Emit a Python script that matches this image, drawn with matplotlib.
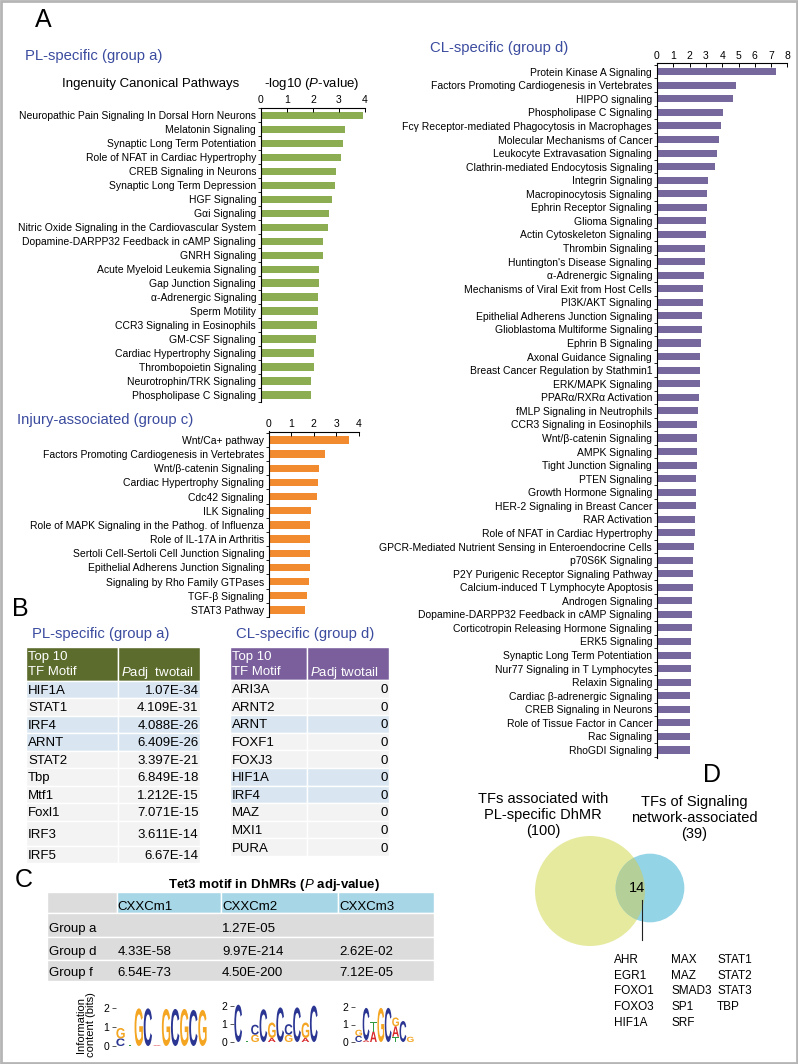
import matplotlib
matplotlib.use('Agg')
import matplotlib.pyplot as plt
import numpy as np
from matplotlib.patches import Rectangle, Circle, PathPatch
from matplotlib.textpath import TextPath
from matplotlib.font_manager import FontProperties
from matplotlib.transforms import Affine2D

plt.rcParams['font.family'] = ['Liberation Sans', 'DejaVu Sans']
plt.rcParams['mathtext.fontset'] = 'custom'
plt.rcParams['mathtext.rm'] = 'Liberation Sans'
plt.rcParams['mathtext.it'] = 'Liberation Sans:italic'
plt.rcParams['mathtext.bf'] = 'Liberation Sans:bold'

# ---------------- data ----------------
pl_pathways = [
    'Neuropathic Pain Signaling In Dorsal Horn Neurons', 'Melatonin Signaling',
    'Synaptic Long Term Potentiation', 'Role of NFAT in Cardiac Hypertrophy',
    'CREB Signaling in Neurons', 'Synaptic Long Term Depression', 'HGF Signaling',
    'Gαi Signaling', 'Nitric Oxide Signaling in the Cardiovascular System',
    'Dopamine-DARPP32 Feedback in cAMP Signaling', 'GNRH Signaling',
    'Acute Myeloid Leukemia Signaling', 'Gap Junction Signaling', 'α-Adrenergic Signaling',
    'Sperm Motility', 'CCR3 Signaling in Eosinophils', 'GM-CSF Signaling',
    'Cardiac Hypertrophy Signaling', 'Thrombopoietin Signaling',
    'Neurotrophin/TRK Signaling', 'Phospholipase C Signaling']
pl_values = [3.91, 3.23, 3.17, 3.08, 2.88, 2.85, 2.73, 2.63, 2.58, 2.40, 2.38,
             2.23, 2.22, 2.19, 2.18, 2.17, 2.12, 2.05, 2.04, 1.91, 1.91]

inj_pathways = [
    'Wnt/Ca+ pathway', 'Factors Promoting Cardiogenesis in Vertebrates',
    'Wnt/β-catenin Signaling', 'Cardiac Hypertrophy Signaling', 'Cdc42 Signaling',
    'ILK Signaling', 'Role of MAPK Signaling in the Pathog. of Influenza',
    'Role of IL-17A in Arthritis', 'Sertoli Cell-Sertoli Cell Junction Signaling',
    'Epithelial Adherens Junction Signaling', 'Signaling by Rho Family GTPases',
    'TGF-β Signaling', 'STAT3 Pathway']
inj_values = [3.57, 2.50, 2.23, 2.20, 2.13, 1.88, 1.84, 1.83, 1.83, 1.83, 1.80, 1.71, 1.62]

cl_pathways = [
    'Protein Kinase A Signaling', 'Factors Promoting Cardiogenesis in Vertebrates',
    'HIPPO signaling', 'Phospholipase C Signaling',
    'Fcγ Receptor-mediated Phagocytosis in Macrophages', 'Molecular Mechanisms of Cancer',
    'Leukocyte Extravasation Signaling', 'Clathrin-mediated Endocytosis Signaling',
    'Integrin Signaling', 'Macropinocytosis Signaling', 'Ephrin Receptor Signaling',
    'Glioma Signaling', 'Actin Cytoskeleton Signaling', 'Thrombin Signaling',
    "Huntington's Disease Signaling", 'α-Adrenergic Signaling',
    'Mechanisms of Viral Exit from Host Cells', 'PI3K/AKT Signaling',
    'Epithelial Adherens Junction Signaling', 'Glioblastoma Multiforme Signaling',
    'Ephrin B Signaling', 'Axonal Guidance Signaling',
    'Breast Cancer Regulation by Stathmin1', 'ERK/MAPK Signaling',
    'PPARα/RXRα Activation', 'fMLP Signaling in Neutrophils',
    'CCR3 Signaling in Eosinophils', 'Wnt/β-catenin Signaling', 'AMPK Signaling',
    'Tight Junction Signaling', 'PTEN Signaling', 'Growth Hormone Signaling',
    'HER-2 Signaling in Breast Cancer', 'RAR Activation',
    'Role of NFAT in Cardiac Hypertrophy',
    'GPCR-Mediated Nutrient Sensing in Enteroendocrine Cells', 'p70S6K Signaling',
    'P2Y Purigenic Receptor Signaling Pathway', 'Calcium-induced T Lymphocyte Apoptosis',
    'Androgen Signaling', 'Dopamine-DARPP32 Feedback in cAMP Signaling',
    'Corticotropin Releasing Hormone Signaling', 'ERK5 Signaling',
    'Synaptic Long Term Potentiation', 'Nur77 Signaling in T Lymphocytes',
    'Relaxin Signaling', 'Cardiac β-adrenergic Signaling', 'CREB Signaling in Neurons',
    'Role of Tissue Factor in Cancer', 'Rac Signaling', 'RhoGDI Signaling']
cl_values = [7.30, 4.85, 4.64, 4.03, 3.93, 3.80, 3.70, 3.56, 3.11, 3.09, 3.07, 3.03,
             3.03, 2.97, 2.97, 2.91, 2.80, 2.80, 2.76, 2.74, 2.70, 2.66, 2.66, 2.64,
             2.60, 2.54, 2.48, 2.43, 2.43, 2.43, 2.39, 2.39, 2.37, 2.35, 2.33, 2.27,
             2.19, 2.19, 2.19, 2.15, 2.13, 2.13, 2.09, 2.09, 2.07, 2.07, 2.04, 2.04,
             2.04, 2.04, 2.04]

pl_motifs = ['HIF1A', 'STAT1', 'IRF4', 'ARNT', 'STAT2', 'Tbp', 'Mtf1', 'Foxl1', 'IRF3', 'IRF5']
pl_padj = ['1.07E-34', '4.109E-31', '4.088E-26', '6.409E-26', '3.397E-21', '6.849E-18',
           '1.212E-15', '7.071E-15', '3.611E-14', '6.67E-14']
cl_motifs = ['ARI3A', 'ARNT2', 'ARNT', 'FOXF1', 'FOXJ3', 'HIF1A', 'IRF4', 'MAZ', 'MXI1', 'PURA']
cl_padj = ['0'] * 10

tet3_motifs = ['CXXCm1', 'CXXCm2', 'CXXCm3']
tet3_groups = ['Group a', 'Group d', 'Group f']
tet3_padj = [['', '1.27E-05', ''],
             ['4.33E-58', '9.97E-214', '2.62E-02'],
             ['6.54E-73', '4.50E-200', '7.12E-05']]

# sequence logos: per position, (base, bits) stacked bottom to top
logo_cxxcm1 = [[('C', 0.40), ('G', 0.55)], [('T', 0.04)], [('G', 1.98)], [('C', 1.98)],
               [('A', 0.04)], [('G', 1.95)], [('C', 1.95)], [('G', 1.95)], [('C', 1.90)],
               [('G', 1.90)]]
logo_cxxcm2 = [[('C', 2.05)], [('T', 0.05)], [('G', 0.40), ('C', 0.55)], [('C', 1.80)],
               [('A', 0.22), ('G', 0.85)], [('C', 1.90)], [('G', 0.40), ('C', 0.58)],
               [('C', 1.90)], [('A', 0.22), ('G', 0.85)], [('C', 2.00)]]
logo_cxxcm3 = [[('C', 0.35), ('G', 0.35)], [('A', 0.10), ('C', 1.85)],
               [('A', 0.60), ('T', 0.55)], [('G', 1.95)], [('C', 1.95)],
               [('T', 0.30), ('A', 0.60), ('G', 0.50)], [('C', 1.20)], [('G', 0.30)]]

venn_pl_tfs = 100
venn_signaling_tfs = 39
venn_shared = 14
shared_tfs = ['AHR', 'EGR1', 'FOXO1', 'FOXO3', 'HIF1A', 'MAX', 'MAZ', 'SMAD3', 'SP1',
              'SRF', 'STAT1', 'STAT2', 'STAT3', 'TBP']

# ---------------- figure ----------------
W, H = 798, 1064
fig = plt.figure(figsize=(W / 100, H / 100), dpi=100)
TITLE_BLUE = '#3b4b9e'


def px_axes(x0, y0, x1, y1):
    return fig.add_axes([x0 / W, 1 - y1 / H, (x1 - x0) / W, (y1 - y0) / H])


canvas = px_axes(0, 0, W, H)
canvas.set_xlim(0, W)
canvas.set_ylim(H, 0)
canvas.axis('off')
canvas.add_patch(Rectangle((1, 1), W - 2, H - 2, fill=False, ec='#b5b5b5', lw=2))


def bar_panel(labels, values, color, x0, ppu, xmax, y_axis, c0, step, y_end):
    n = len(labels)
    ax = px_axes(x0, y_axis, x0 + xmax * ppu, y_end)
    ax.patch.set_alpha(0)
    ax.barh(np.arange(n), values, height=0.52, color=color)
    ax.set_xlim(0, xmax)
    ax.set_ylim((y_end - c0) / step, (y_axis - c0) / step)
    ax.xaxis.tick_top()
    ax.set_xticks(range(xmax + 1))
    ax.tick_params(axis='x', direction='in', length=3, width=0.7, pad=2, labelsize=7.5)
    ax.set_yticks(np.arange(n))
    ax.set_yticklabels(labels, fontsize=7.5)
    ax.tick_params(axis='y', which='major', length=0, pad=3.5)
    ax.set_yticks(np.arange(n + 1) - 0.5, minor=True)
    ax.tick_params(axis='y', which='minor', length=2, width=0.6)
    for s in ['right', 'bottom']:
        ax.spines[s].set_visible(False)
    for s in ['top', 'left']:
        ax.spines[s].set_linewidth(0.8)
    return ax


# Panel A
canvas.text(43, 20, 'A', fontsize=18, ha='center', va='center')
canvas.text(25, 56, 'PL-specific (group a)', fontsize=10.7, color=TITLE_BLUE, va='center')
canvas.text(151, 84, 'Ingenuity Canonical Pathways', fontsize=9.5, ha='center', va='center')
canvas.text(312, 84, r'-log10 ($\mathit{P}$-value)', fontsize=9.5, ha='center', va='center')
bar_panel(pl_pathways, pl_values, '#8cad52', 261, 26.0, 4, 107.5, 115.7, 14.7, 402)

canvas.text(17, 420, 'Injury-associated (group c)', fontsize=10.7, color=TITLE_BLUE,
            va='center')
bar_panel(inj_pathways, inj_values, '#f28b30', 269, 22.4, 4, 431.5, 440, 14.31, 617)

canvas.text(430, 48, 'CL-specific (group d)', fontsize=10.7, color=TITLE_BLUE, va='center')
bar_panel(cl_pathways, cl_values, '#76679c', 657, 16.3, 8, 63.3, 71.7, 13.566, 758)

# Panel B
canvas.text(20, 609, 'B', fontsize=18, ha='center', va='center')
shared_motifs = set(pl_motifs) & set(cl_motifs)


def motif_table(title, motifs, padj, header_color, x0, xs, x1, h_top, row_edges, header_lbl):
    canvas.text(x0 + 6, 634, title, fontsize=10.7, color=TITLE_BLUE, va='center')
    h_bot = row_edges[0]
    canvas.add_patch(Rectangle((x0, h_top), xs - x0, h_bot - h_top, fc=header_color,
                               ec='white', lw=1))
    canvas.add_patch(Rectangle((xs, h_top), x1 - xs, h_bot - h_top, fc=header_color,
                               ec='white', lw=1))
    canvas.text(x0 + 2, h_top + 10, 'Top 10', fontsize=9.5, color='white', va='center')
    canvas.text(x0 + 2, h_top + 25, 'TF Motif', fontsize=9.5, color='white', va='center')
    canvas.text(xs + 3, h_top + 26.5, header_lbl, fontsize=9.5, color='white', va='center')
    for i, (m, p) in enumerate(zip(motifs, padj)):
        y0, y1 = row_edges[i], row_edges[i + 1]
        fc = '#d9e5f1' if m in shared_motifs else '#f3f3f3'
        canvas.add_patch(Rectangle((x0, y0), xs - x0, y1 - y0, fc=fc, ec='white', lw=1))
        canvas.add_patch(Rectangle((xs, y0), x1 - xs, y1 - y0, fc=fc, ec='white', lw=1))
        yc = (y0 + y1) / 2 + 1.5
        canvas.text(x0 + 2, yc, m, fontsize=9.5, va='center')
        canvas.text(x1 - 1.5, yc, p, fontsize=9.5, va='center', ha='right')


motif_table('PL-specific (group a)', pl_motifs, pl_padj, '#5c6c2d', 26, 118, 200, 646.7,
            [680.5, 698, 715.5, 733, 750.5, 768, 785.5, 803, 820.5, 846, 862.5],
            r'$\mathit{P}$adj  twotail')
motif_table('CL-specific (group d)', cl_motifs, cl_padj, '#7a5f9c', 230, 307.3, 389.3, 646.7,
            list(680 + 17.6 * np.arange(11)), r'$\mathit{P}$adj twotail')

# Panel C
canvas.text(24, 880, 'C', fontsize=18, ha='center', va='center')
canvas.text(274, 885, r'Tet3 motif in DhMRs ($\mathit{P}$ adj-value)', fontsize=9.5,
            weight='bold', ha='center', va='center')
col_x = [46.7, 116.7, 221, 338, 434]
row_y = [891.7, 913.3, 937.3, 960, 980.7]
for j in range(4):
    fc = '#dcdcdc' if j == 0 else '#a7d7e7'
    canvas.add_patch(Rectangle((col_x[j], row_y[0]), col_x[j + 1] - col_x[j],
                               row_y[1] - row_y[0], fc=fc, ec='white', lw=1))
    if j > 0:
        canvas.text(col_x[j] + 1, 907, tet3_motifs[j - 1], fontsize=9.5, va='center')
for i, g in enumerate(tet3_groups):
    y0, y1 = row_y[i + 1], row_y[i + 2]
    canvas.add_patch(Rectangle((col_x[0], y0), col_x[4] - col_x[0], y1 - y0, fc='#dcdcdc',
                               ec='white', lw=1))
    canvas.text(col_x[0] + 2, y1 - 8, g, fontsize=9.5, va='center')
    for j, v in enumerate(tet3_padj[i]):
        canvas.text(col_x[j + 1] + 1, y1 - 8, v, fontsize=9.5, va='center')

BASE_COLORS = {'A': '#d8282a', 'C': '#2b3693', 'G': '#f4a623', 'T': '#2f9a3f'}
logo_font = FontProperties(family='Liberation Sans', weight='bold')


def draw_logo(columns, x0, x1, base, ppb):
    ax = px_axes(x0, base - 2.2 * ppb, x1, base)
    ax.patch.set_alpha(0)
    n = len(columns)
    ax.set_xlim(0.5, n + 0.5)
    ax.set_ylim(0, 2.2)
    for k, col in enumerate(columns):
        y = 0
        for ch, h in col:
            tp = TextPath((0, 0), ch, size=1, prop=logo_font)
            bb = tp.get_extents()
            tr = Affine2D().translate(-bb.x0, -bb.y0).scale(0.92 / bb.width, h / bb.height)
            tr = tr.translate(k + 1 - 0.46, y)
            ax.add_patch(PathPatch(tr.transform_path(tp), fc=BASE_COLORS[ch], ec='none'))
            y += h
    ax.set_xticks([])
    ax.set_yticks([0, 1, 2])
    ax.tick_params(axis='y', length=3, width=0.7, color='#555555', labelsize=7.5, pad=2)
    for s in ax.spines.values():
        s.set_visible(False)


canvas.text(86, 1025, 'Information\ncontent (bits)', fontsize=8, rotation=90,
            ha='center', va='center', linespacing=1.0)
draw_logo(logo_cxxcm1, 116, 207, 1046, 19.0)
draw_logo(logo_cxxcm2, 234, 318, 1042, 18.2)
draw_logo(logo_cxxcm3, 355, 414, 1042, 17.5)

# Panel D
canvas.text(712, 775, 'D', fontsize=18, ha='center', va='center')
k = 5.5
big = Circle((590, 891), k * np.sqrt(venn_pl_tfs), fc='#e6ea9f', ec='none')
small = Circle((650, 888), k * np.sqrt(venn_signaling_tfs), fc='#93d4e7', ec='none')
overlap = Circle((650, 888), k * np.sqrt(venn_signaling_tfs), fc='#b4cf98', ec='none')
canvas.add_patch(big)
canvas.add_patch(small)
canvas.add_patch(overlap)
overlap.set_clip_path(big)
canvas.text(543, 815, 'TFs associated with\nPL-specific DhMR\n(%d)' % venn_pl_tfs,
            fontsize=10.5, ha='center', va='center', linespacing=1.2)
canvas.text(694, 818, 'TFs of Signaling\nnetwork-associated\n(%d)' % venn_signaling_tfs,
            fontsize=10.5, ha='center', va='center', linespacing=1.2)
canvas.text(637, 888, str(venn_shared), fontsize=10.5, ha='center', va='center')
canvas.plot([642, 642], [900, 940], color='#222222', lw=0.8)
for i, tf in enumerate(shared_tfs):
    canvas.text([614, 671, 717][i // 5], 960 + 15.7 * (i % 5), tf, fontsize=8.5, va='center')

fig.savefig('out.png', dpi=100)
